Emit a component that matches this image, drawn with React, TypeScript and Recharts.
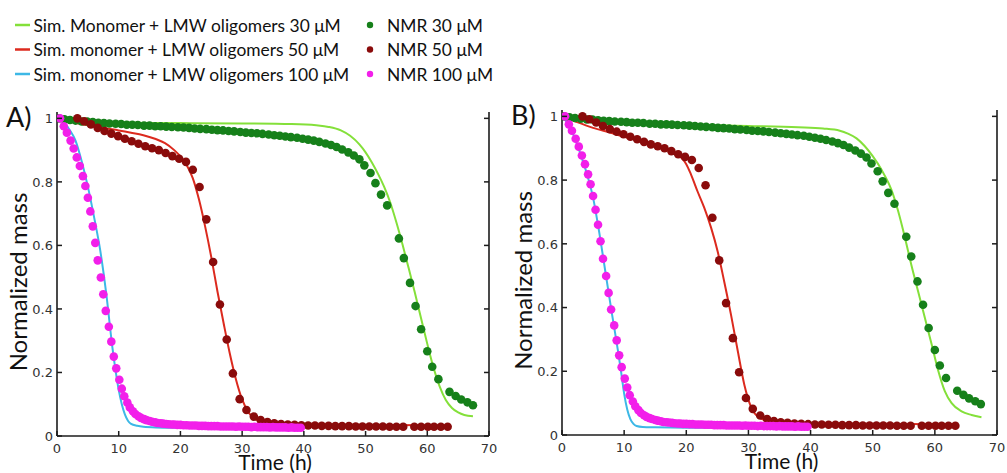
import React from 'react';
import { ComposedChart, Line, Scatter, XAxis, YAxis, Label } from 'recharts';

type Pt = { t: number; v: number };
const toPts = (rows: number[][]): Pt[] => rows.map(([t, v]) => ({ t, v }));

const xTicks = [0, 10, 20, 30, 40, 50, 60, 70];
const yTicks = [0, 0.2, 0.4, 0.6, 0.8, 1];

// NMR data (same in both panels)
const nmr30 = toPts([
	[0.3, 1.0], [1.2, 0.997], [2.1, 0.995], [3.0, 0.993], [4.0, 0.99], [4.9, 0.99], [5.8, 0.988],
	[6.7, 0.986], [7.6, 0.985], [8.5, 0.984], [9.5, 0.983], [10.4, 0.982], [11.3, 0.98], [12.2, 0.98],
	[13.1, 0.979], [14.1, 0.977], [15.0, 0.977], [15.9, 0.975], [16.8, 0.975], [17.7, 0.974],
	[18.6, 0.973], [19.6, 0.972], [20.5, 0.971], [21.4, 0.97], [22.3, 0.968], [23.2, 0.967],
	[24.2, 0.966], [25.1, 0.964], [26.0, 0.963], [26.9, 0.962], [27.8, 0.96], [28.7, 0.959],
	[29.7, 0.957], [30.6, 0.955], [31.5, 0.954], [32.4, 0.953], [33.3, 0.951], [34.3, 0.949],
	[35.2, 0.947], [36.1, 0.945], [37.0, 0.943], [37.9, 0.941], [38.9, 0.939], [39.8, 0.936],
	[40.7, 0.933], [41.6, 0.93], [42.5, 0.926], [43.5, 0.921], [44.4, 0.916], [45.3, 0.91],
	[46.2, 0.902], [47.2, 0.893], [48.1, 0.883], [49.0, 0.871], [49.8, 0.852], [50.8, 0.828],
	[51.6, 0.796], [52.5, 0.76], [53.5, 0.726], [55.4, 0.622], [56.2, 0.56], [57.2, 0.482],
	[58.1, 0.409], [59.0, 0.336], [60.0, 0.267], [60.8, 0.218], [61.8, 0.179], [63.6, 0.139],
	[64.6, 0.126], [65.5, 0.115], [66.5, 0.106], [67.4, 0.097],
]);

const nmr50 = toPts([
	[3.3, 1.0], [4.4, 0.991], [5.5, 0.981], [6.6, 0.97], [7.7, 0.96], [8.8, 0.952], [9.9, 0.944],
	[11.0, 0.936], [12.1, 0.928], [13.2, 0.92], [14.3, 0.912], [15.4, 0.906], [16.5, 0.9],
	[17.6, 0.891], [18.7, 0.881], [19.8, 0.873], [20.9, 0.863], [22.0, 0.838], [23.1, 0.784],
	[24.2, 0.682], [25.3, 0.548], [26.4, 0.414], [27.5, 0.304], [28.5, 0.197], [29.6, 0.116],
	[30.7, 0.082], [31.9, 0.061], [33.0, 0.05], [34.1, 0.044], [35.2, 0.04], [36.3, 0.038],
	[37.4, 0.036], [38.5, 0.035], [39.6, 0.034], [40.7, 0.033], [41.8, 0.033], [42.9, 0.032],
	[44.0, 0.032], [45.1, 0.031], [46.2, 0.031], [47.3, 0.031], [48.4, 0.03], [49.5, 0.03],
	[50.6, 0.03], [51.7, 0.03], [52.8, 0.03], [53.9, 0.029], [55.0, 0.029], [56.1, 0.029],
	[57.9, 0.029], [59.0, 0.029], [60.1, 0.029], [61.1, 0.029], [62.2, 0.029], [63.3, 0.029],
]);

const nmr100 = toPts([
	[0.5, 1.0], [1.1, 0.975], [1.6, 0.955], [2.2, 0.93], [2.7, 0.905], [3.2, 0.877], [3.7, 0.85],
	[4.2, 0.818], [4.6, 0.787], [5.0, 0.75], [5.4, 0.707], [5.8, 0.66], [6.2, 0.608], [6.6, 0.553],
	[7.1, 0.499], [7.5, 0.446], [7.9, 0.394], [8.4, 0.344], [8.8, 0.297], [9.2, 0.25], [9.6, 0.213],
	[10.1, 0.177], [10.5, 0.149], [10.9, 0.125], [11.4, 0.105], [11.8, 0.09], [12.3, 0.078],
	[12.7, 0.069], [13.2, 0.062], [13.6, 0.057], [14.1, 0.053], [14.5, 0.05], [15.0, 0.047],
	[15.4, 0.045], [15.9, 0.043], [16.3, 0.041], [16.8, 0.04], [17.2, 0.039], [17.7, 0.038],
	[18.1, 0.037], [18.6, 0.036], [19.0, 0.036], [19.5, 0.035], [20.0, 0.035], [20.5, 0.034],
	[21.0, 0.034], [21.5, 0.033], [22.0, 0.033], [22.5, 0.033], [23.0, 0.032], [23.5, 0.032],
	[24.0, 0.032], [24.5, 0.031], [25.0, 0.031], [25.5, 0.031], [26.0, 0.031], [26.5, 0.03],
	[27.0, 0.03], [27.5, 0.03], [28.0, 0.03], [28.5, 0.03], [29.0, 0.029], [29.5, 0.03],
	[30.0, 0.029], [30.5, 0.029], [31.0, 0.029], [31.5, 0.028], [32.0, 0.029], [32.5, 0.028],
	[33.0, 0.028], [33.5, 0.028], [34.0, 0.028], [34.5, 0.027], [35.0, 0.028], [35.5, 0.027],
	[36.0, 0.027], [36.5, 0.027], [37.0, 0.027], [37.5, 0.026], [38.0, 0.027], [38.5, 0.026],
	[39.0, 0.026], [39.5, 0.026],
]);

// simulations, panel A
const simA30 = toPts([
	[0, 1.0], [2, 0.993], [5, 0.988], [10, 0.986], [20, 0.985], [30, 0.984], [38, 0.982], [42, 0.978],
	[44, 0.973], [46, 0.962], [47.5, 0.945], [49, 0.918], [50, 0.893], [51, 0.862], [52, 0.826],
	[53, 0.785], [54, 0.735], [55, 0.672], [56, 0.602], [57, 0.527], [58, 0.45], [59, 0.37],
	[60, 0.29], [61, 0.216], [62, 0.156], [63, 0.113], [64, 0.088], [65, 0.074], [66, 0.066], [67.4, 0.062],
]);
const simA50 = toPts([
	[0, 1.0], [2, 0.99], [5, 0.978], [8, 0.968], [10, 0.962], [12, 0.955], [14, 0.947], [16, 0.935],
	[17.5, 0.922], [19, 0.9], [20, 0.88], [21, 0.853], [22, 0.812], [23, 0.745], [24, 0.66],
	[25, 0.563], [26, 0.455], [27, 0.355], [28, 0.26], [29, 0.178], [30, 0.115], [31, 0.075],
	[32, 0.055], [33, 0.047], [35, 0.041], [40, 0.037], [50, 0.035], [63.3, 0.034],
]);
const simA100 = toPts([
	[0, 1.0], [1, 0.99], [2, 0.965], [3, 0.93], [4, 0.865], [5, 0.785], [6, 0.69], [7, 0.585],
	[8, 0.445], [9, 0.275], [9.5, 0.205], [10, 0.145], [10.5, 0.1], [11, 0.068], [11.5, 0.048],
	[12, 0.038], [13, 0.032], [14, 0.029], [16, 0.027], [20, 0.026], [30, 0.025], [39.5, 0.025],
]);

// simulations, panel B
const simB30 = toPts([
	[0, 1.0], [2, 0.99], [5, 0.984], [10, 0.979], [20, 0.974], [30, 0.97], [38, 0.966], [42, 0.962],
	[44.7, 0.955], [46, 0.946], [47.4, 0.931], [48.7, 0.907], [50, 0.875], [51.4, 0.833], [53, 0.77],
	[54.1, 0.702], [55.2, 0.618], [56.2, 0.535], [57.3, 0.451], [58.4, 0.367], [59.5, 0.283],
	[60.5, 0.205], [61.6, 0.138], [62.7, 0.1], [64.3, 0.074], [65.9, 0.063], [67.5, 0.056],
]);
const simB50 = toPts([
	[0, 1.0], [2, 0.985], [5, 0.964], [8, 0.948], [10, 0.936], [12, 0.926], [15, 0.91], [17, 0.896],
	[18.3, 0.884], [19.2, 0.87], [20, 0.85], [20.75, 0.818], [21.8, 0.765], [22.9, 0.713], [24, 0.65],
	[25.05, 0.576], [26.1, 0.482], [27.2, 0.377], [28.3, 0.262], [29.35, 0.157], [30.4, 0.089],
	[31.5, 0.058], [33.7, 0.042], [37.4, 0.037], [45, 0.035], [63.3, 0.034],
]);
const simB100 = toPts([
	[0, 1.0], [0.5, 0.99], [1, 0.975], [2, 0.935], [3, 0.88], [4, 0.82], [5, 0.745], [6, 0.635],
	[7, 0.51], [8, 0.385], [9, 0.265], [9.5, 0.2], [10, 0.13], [10.5, 0.08], [11, 0.05], [11.5, 0.035],
	[12, 0.028], [13, 0.025], [15, 0.024], [20, 0.023], [30, 0.023], [39.5, 0.023],
]);

const C = {
	lime: '#84e03a', red: '#dc2a1e', blue: '#3db8e6',
	green: '#16801a', maroon: '#8a0b0b', magenta: '#f21fea',
};

const legendLines = [
	{ label: 'Sim. Monomer + LMW oligomers 30 μM', color: C.lime },
	{ label: 'Sim. monomer + LMW oligomers 50 μM', color: C.red },
	{ label: 'Sim. monomer + LMW oligomers 100 μM', color: C.blue },
];
const legendDots = [
	{ label: 'NMR 30 μM', color: C.green },
	{ label: 'NMR 50 μM', color: C.maroon },
	{ label: 'NMR 100 μM', color: C.magenta },
];

const BOX = '#1c1c1c';
const tickFont = { fontFamily: 'DejaVu Sans', fontSize: 13, fill: '#333' };
const titleFont = { fontFamily: 'Lato', fill: '#111' };

const BottomTick = ({ x, y, payload }: any) => (
	<g>
		<line x1={x} x2={x} y1={y} y2={y - 5} stroke={BOX} strokeWidth={1.5} />
		<text x={x} y={y + 16.5} textAnchor="middle" {...tickFont}>{payload.value}</text>
	</g>
);
const LeftTick = ({ x, y, payload }: any) => (
	<g>
		<line x1={x} x2={x + 5} y1={y} y2={y} stroke={BOX} strokeWidth={1.5} />
		<text x={x - 4} y={y + 4.7} textAnchor="end" {...tickFont}>{payload.value}</text>
	</g>
);
const TopTick = ({ x, y }: any) => <line x1={x} x2={x} y1={y} y2={y + 5} stroke={BOX} strokeWidth={1.5} />;
const RightTick = ({ x, y }: any) => <line x1={x} x2={x - 5} y1={y} y2={y} stroke={BOX} strokeWidth={1.5} />;

const dot = (color: string) => (p: any) => <circle cx={p.cx} cy={p.cy} r={4.3} fill={color} />;

type PanelProps = {
	letter: string; left: number; top: number; width: number; height: number; rightW: number;
	sim30: Pt[]; sim50: Pt[]; sim100: Pt[];
};

const Panel = ({ letter, left, top, width, height, rightW, sim30, sim50, sim100 }: PanelProps) => (
	<div style={{ position: 'absolute', left, top }}>
		<ComposedChart width={width} height={height} margin={{ top: 17, right: 0, bottom: 0, left: 0 }}>
			<XAxis type="number" dataKey="t" domain={[0, 70]} ticks={xTicks} interval={0} allowDataOverflow
				height={37} tickSize={0} tickMargin={0} tickLine={false} tick={BottomTick}
				axisLine={{ stroke: BOX, strokeWidth: 1.6 }}>
				<Label content={({ viewBox }: any) => (
					<text x={viewBox.x + viewBox.width / 2 + 2} y={viewBox.y + 34} textAnchor="middle" fontSize={21} {...titleFont}>Time (h)</text>
				)} />
			</XAxis>
			<XAxis xAxisId="top" orientation="top" type="number" domain={[0, 70]} ticks={xTicks} interval={0} allowDataOverflow
				height={0} tickSize={0} tickMargin={0} tickLine={false} tick={TopTick}
				axisLine={{ stroke: BOX, strokeWidth: 1.6 }} />
			<YAxis type="number" dataKey="v" domain={[0, 1.02]} ticks={yTicks} interval={0} allowDataOverflow
				width={57} tickSize={0} tickMargin={0} tickLine={false} tick={LeftTick}
				axisLine={{ stroke: BOX, strokeWidth: 1.6 }}>
				<Label content={({ viewBox }: any) => {
					const x = viewBox.x + viewBox.width - 30;
					const y = viewBox.y + viewBox.height / 2 + 8;
					return (
						<g>
							<text x={x} y={y} transform={`rotate(-90 ${x} ${y})`} textAnchor="middle" fontSize={24} {...titleFont}>Normalized mass</text>
							<text x={viewBox.x + 6} y={viewBox.y + 15} fontSize={27} {...titleFont}>{letter}</text>
						</g>
					);
				}} />
			</YAxis>
			<YAxis yAxisId="right" orientation="right" type="number" domain={[0, 1.02]} ticks={yTicks} interval={0} allowDataOverflow
				width={rightW} tickSize={0} tickMargin={0} tickLine={false} tick={RightTick}
				axisLine={{ stroke: BOX, strokeWidth: 1.6 }} />

			<Scatter data={nmr30} fill={C.green} shape={dot(C.green)} isAnimationActive={false} />
			<Scatter data={nmr50} fill={C.maroon} shape={dot(C.maroon)} isAnimationActive={false} />
			<Scatter data={nmr100} fill={C.magenta} shape={dot(C.magenta)} isAnimationActive={false} />

			<Line data={sim30} dataKey="v" type="monotone" stroke={C.lime} strokeWidth={2} dot={false} activeDot={false} isAnimationActive={false} />
			<Line data={sim50} dataKey="v" type="monotone" stroke={C.red} strokeWidth={2} dot={false} activeDot={false} isAnimationActive={false} />
			<Line data={sim100} dataKey="v" type="monotone" stroke={C.blue} strokeWidth={2} dot={false} activeDot={false} isAnimationActive={false} />
		</ComposedChart>
	</div>
);

const Legend = () => (
	<svg width={640} height={92} style={{ position: 'absolute', left: 0, top: 0 }}>
		{legendLines.map((s, i) => (
			<g key={s.label}>
				<line x1={15} x2={30} y1={25 + i * 24.5} y2={25 + i * 24.5} stroke={s.color} strokeWidth={2.5} />
				<text x={33.5} y={31.5 + i * 24.5} fontSize={17.4} {...titleFont}>{s.label}</text>
			</g>
		))}
		{legendDots.map((s, i) => (
			<g key={s.label}>
				<circle cx={370} cy={25 + i * 24.5} r={3.2} fill={s.color} />
				<text x={387} y={31.5 + i * 24.5} fontSize={17.4} {...titleFont}>{s.label}</text>
			</g>
		))}
	</svg>
);

export default function App() {
	return (
		<div style={{ position: 'absolute', left: 0, top: 0, width: 1007, height: 473, background: '#fff', overflow: 'hidden' }}>
			<Legend />
			<Panel letter="A)" left={0} top={95} width={500} height={378} rightW={11} sim30={simA30} sim50={simA50} sim100={simA100} />
			<Panel letter="B)" left={505} top={93} width={502} height={379} rightW={10} sim30={simB30} sim50={simB50} sim100={simB100} />
		</div>
	);
}
